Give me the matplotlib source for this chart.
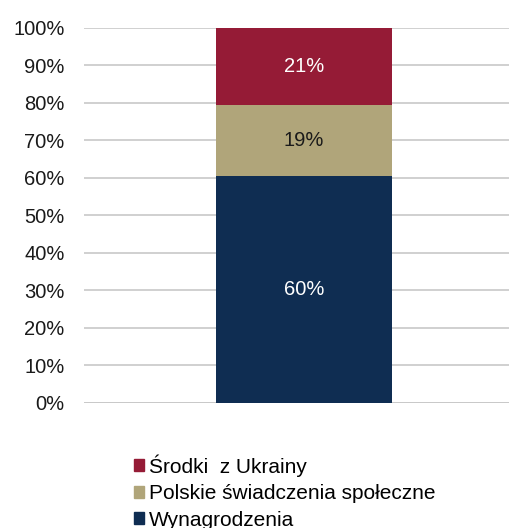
import matplotlib
matplotlib.use('Agg')
import matplotlib.pyplot as plt
from matplotlib.patches import Patch

plt.rcParams['font.family'] = ['Liberation Sans', 'DejaVu Sans']

categories = ['']
series_names = ['Wynagrodzenia', 'Polskie świadczenia społeczne', 'Środki  z Ukrainy']
values = [0.605, 0.19, 0.205]
value_labels = ['60%', '19%', '21%']
colors = ['#0F2D52', '#B0A57A', '#951B36']
label_colors = ['white', '#1a1a1a', 'white']

fig = plt.figure(figsize=(5.1, 5.28), dpi=100)
ax = fig.add_axes([0.165, 0.237, 0.835, 0.71])

bottom = 0
for v, c, lab, lc in zip(values, colors, value_labels, label_colors):
    ax.bar(0, v, bottom=bottom, width=0.413, color=c, zorder=3)
    ax.text(0, bottom + v / 2, lab, ha='center', va='center', color=lc, fontsize=14.5, zorder=4)
    bottom += v

ax.set_xlim(-0.516, 0.484)
ax.set_ylim(0, 1)
ax.set_yticks([i / 10 for i in range(11)])
ax.set_yticklabels([f'{i * 10}%' for i in range(11)], fontsize=14.5, color='#1a1a1a')
ax.set_xticks([])
ax.tick_params(axis='y', length=0, pad=14)
ax.yaxis.grid(True, color='#c8c8c8', linewidth=1.2)
ax.set_axisbelow(True)
for s in ax.spines.values():
    s.set_visible(False)
ax.axhline(0, color='#c8c8c8', linewidth=1.2, zorder=1)

handles = [Patch(color=colors[i]) for i in (2, 1, 0)]
names = [series_names[i] for i in (2, 1, 0)]
fig.legend(handles, names, loc='upper left', bbox_to_anchor=(0.262, 0.140),
           frameon=False, fontsize=15, handlelength=0.5, handleheight=0.5,
           handletextpad=0.25, labelspacing=0.36, borderaxespad=0, borderpad=0)

fig.savefig('out.png', dpi=100)
